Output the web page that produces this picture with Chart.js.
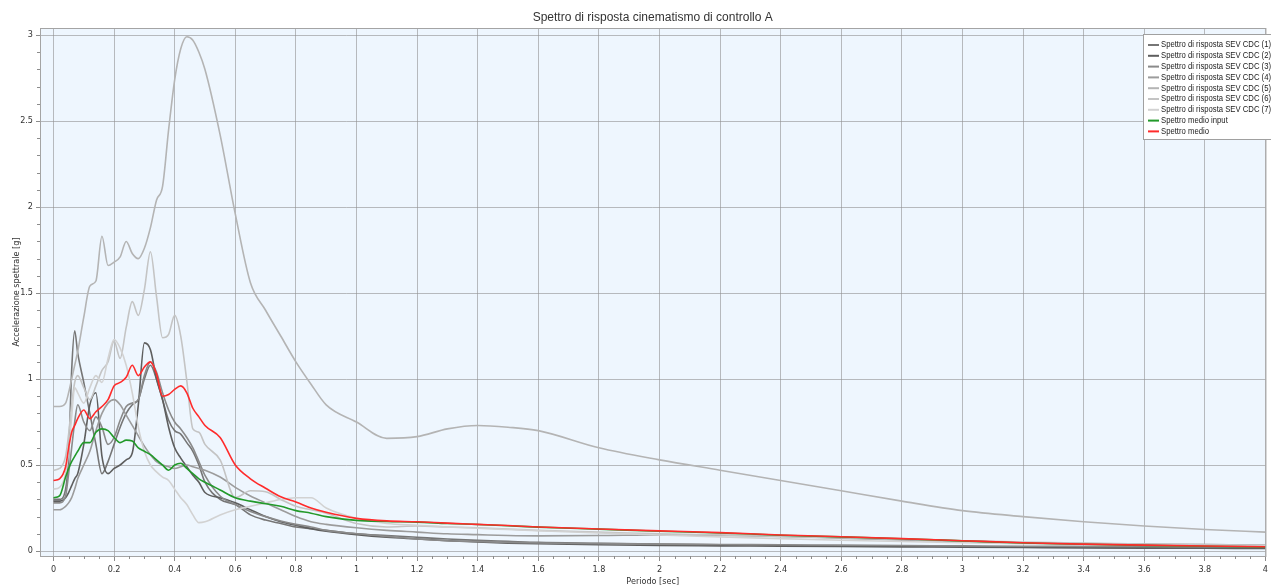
<!DOCTYPE html>
<html>
<head>
<meta charset="utf-8">
<title>Spettro di risposta</title>
<script src="https://cdn.jsdelivr.net/npm/chart.js@4.4.1/dist/chart.umd.min.js"></script>
<style>
  html, body { margin: 0; padding: 0; background: #fff; overflow: hidden; }
  #wrap { width: 1271px; height: 585px; overflow: hidden; }
</style>
</head>
<body>
<div id="wrap"><canvas id="spettri" width="1271" height="590"></canvas></div>
<script>
// periodi [sec]
const periods = [0, 0.02, 0.04, 0.05, 0.06, 0.07, 0.08,
  0.10, 0.12, 0.14, 0.16, 0.18, 0.20, 0.22, 0.24, 0.26, 0.28, 0.30, 0.32, 0.34, 0.36, 0.38, 0.40, 0.42, 0.44, 0.46, 0.48, 0.50,
  0.55, 0.60, 0.65, 0.70, 0.75, 0.80, 0.85, 0.90,
  1.0, 1.1, 1.2, 1.3, 1.4, 1.5, 1.6,
  1.8, 2.0, 2.2, 2.4, 2.6, 2.8, 3.0, 3.2, 3.4, 3.6, 3.8, 4.0];

// accelerazioni spettrali [g]
const sev1 = [0.30, 0.30, 0.36, 0.55, 1.05, 1.28, 1.15,
  0.98, 0.80, 0.62, 0.45, 0.52, 0.62, 0.72, 0.80, 0.85, 0.88, 1.00, 1.08, 1.00, 0.88, 0.76, 0.70, 0.68, 0.63, 0.58, 0.50, 0.40,
  0.30, 0.27, 0.21, 0.18, 0.16, 0.14, 0.13, 0.12,
  0.10, 0.09, 0.08, 0.07, 0.062, 0.056, 0.05,
  0.045, 0.04, 0.036, 0.033, 0.03, 0.028, 0.026, 0.024, 0.022, 0.02, 0.019, 0.018];
const sev2 = [0.29, 0.29, 0.31, 0.34, 0.38, 0.42, 0.45,
  0.62, 0.85, 0.92, 0.55, 0.45, 0.48, 0.50, 0.53, 0.57, 0.85, 1.21, 1.17, 1.00, 0.88, 0.72, 0.60, 0.54, 0.49, 0.44, 0.40, 0.34,
  0.31, 0.28, 0.24, 0.20, 0.17, 0.15, 0.13, 0.115,
  0.095, 0.08, 0.07, 0.06, 0.052, 0.046, 0.042,
  0.036, 0.032, 0.03, 0.028, 0.026, 0.024, 0.022, 0.02, 0.018, 0.017, 0.016, 0.015];
const sev3 = [0.28, 0.28, 0.32, 0.45, 0.60, 0.75, 0.85,
  0.75, 0.70, 0.78, 0.72, 0.62, 0.66, 0.76, 0.84, 0.86, 0.88, 1.02, 1.10, 1.04, 0.92, 0.82, 0.75, 0.71, 0.66, 0.60, 0.52, 0.44,
  0.32, 0.27, 0.23, 0.20, 0.175, 0.155, 0.14, 0.12,
  0.10, 0.085, 0.07, 0.06, 0.055, 0.05, 0.047,
  0.043, 0.04, 0.038, 0.036, 0.034, 0.032, 0.03, 0.028, 0.027, 0.026, 0.025, 0.024];
const sev4 = [0.24, 0.24, 0.26, 0.28, 0.31, 0.36, 0.42,
  0.50, 0.58, 0.70, 0.80, 0.86, 0.88, 0.85, 0.79, 0.73, 0.67, 0.61, 0.56, 0.52, 0.50, 0.49, 0.48, 0.49, 0.50, 0.49, 0.48, 0.47,
  0.43, 0.37, 0.32, 0.28, 0.24, 0.20, 0.17, 0.155,
  0.135, 0.12, 0.11, 0.10, 0.095, 0.09, 0.088,
  0.09, 0.094, 0.092, 0.085, 0.075, 0.065, 0.055, 0.048, 0.043, 0.04, 0.037, 0.035];
const sev5 = [0.84, 0.84, 0.86, 0.92, 1.00, 1.08, 1.16,
  1.36, 1.54, 1.57, 1.83, 1.66, 1.68, 1.71, 1.80, 1.73, 1.70, 1.76, 1.88, 2.04, 2.12, 2.45, 2.74, 2.92, 2.99, 2.97, 2.90, 2.80,
  2.42, 1.96, 1.56, 1.40, 1.25, 1.10, 0.97, 0.85,
  0.75, 0.655, 0.665, 0.71, 0.73, 0.72, 0.70,
  0.60, 0.53, 0.47, 0.41, 0.35, 0.29, 0.235, 0.20, 0.17, 0.145, 0.125, 0.11];
const sev6 = [0.47, 0.48, 0.55, 0.68, 0.85, 0.98, 1.02,
  0.95, 0.88, 0.96, 1.05, 1.10, 1.22, 1.12, 1.30, 1.45, 1.37, 1.52, 1.74, 1.48, 1.24, 1.26, 1.37, 1.25, 0.99, 0.71, 0.69, 0.62,
  0.53, 0.31, 0.35, 0.345, 0.30, 0.26, 0.24, 0.22,
  0.16, 0.14, 0.145, 0.14, 0.135, 0.128, 0.12,
  0.11, 0.10, 0.093, 0.085, 0.077, 0.068, 0.06, 0.052, 0.046, 0.041, 0.037, 0.034];
const sev7 = [0.36, 0.37, 0.45, 0.58, 0.78, 0.95, 0.92,
  0.86, 0.95, 1.02, 0.98, 1.12, 1.23, 1.18, 1.08, 0.92, 0.72, 0.58, 0.50, 0.46, 0.43, 0.41, 0.36, 0.31, 0.27, 0.21, 0.165, 0.17,
  0.21, 0.24, 0.26, 0.28, 0.30, 0.31, 0.31, 0.25,
  0.19, 0.16, 0.15, 0.14, 0.132, 0.125, 0.118,
  0.105, 0.093, 0.082, 0.072, 0.063, 0.055, 0.048, 0.042, 0.038, 0.034, 0.031, 0.029];
const medioInput = [0.31, 0.32, 0.43, 0.48, 0.52, 0.55, 0.58,
  0.63, 0.63, 0.69, 0.71, 0.70, 0.66, 0.63, 0.645, 0.64, 0.60, 0.58, 0.56, 0.53, 0.50, 0.47, 0.50, 0.51, 0.48, 0.45, 0.42, 0.40,
  0.355, 0.31, 0.29, 0.275, 0.26, 0.235, 0.22, 0.20,
  0.178, 0.172, 0.168, 0.16, 0.154, 0.147, 0.139,
  0.127, 0.115, 0.105, 0.092, 0.082, 0.071, 0.059, 0.047, 0.039, 0.033, 0.028, 0.024];
const medio = [0.41, 0.42, 0.49, 0.60, 0.69, 0.73, 0.77,
  0.82, 0.77, 0.81, 0.84, 0.88, 0.96, 0.98, 1.01, 1.08, 1.02, 1.07, 1.10, 1.03, 0.90, 0.91, 0.94, 0.96, 0.92, 0.83, 0.78, 0.73,
  0.66, 0.50, 0.42, 0.365, 0.315, 0.285, 0.25, 0.225,
  0.19, 0.175, 0.17, 0.162, 0.155, 0.148, 0.14,
  0.128, 0.117, 0.107, 0.093, 0.083, 0.072, 0.06, 0.048, 0.04, 0.034, 0.029, 0.025];

const seriesNames = [
  'Spettro di risposta SEV CDC (1)', 'Spettro di risposta SEV CDC (2)', 'Spettro di risposta SEV CDC (3)',
  'Spettro di risposta SEV CDC (4)', 'Spettro di risposta SEV CDC (5)', 'Spettro di risposta SEV CDC (6)',
  'Spettro di risposta SEV CDC (7)', 'Spettro medio input', 'Spettro medio'];
const seriesValues = [sev1, sev2, sev3, sev4, sev5, sev6, sev7, medioInput, medio];
const seriesColors = ['#767676', '#5e5e5e', '#8a8a8a', '#9c9c9c', '#b4b4b4', '#c4c4c4', '#d2d2d2', '#22992a', '#ff2b2b'];

const X_MIN = -0.0445, X_MAX = 4, X_MINOR = 0.05, X_MAJOR = 0.2;
const Y_MIN = -0.029, Y_MAX = 3.041, Y_MINOR = 0.1, Y_MAJOR = 0.5;

const FONT = '"Liberation Sans Narrow", "DejaVu Sans Condensed", "Liberation Sans", Arial, sans-serif';

const onStep = (v, step) => Math.abs(v / step - Math.round(v / step)) < 1e-6;
const fmt = v => String(Math.round(v * 100) / 100);

// tacche ogni passo minore, da 0 fino al massimo dell'asse
function stepTicks(step, max) {
  const out = [];
  for (let k = 0; k * step <= max + 1e-9; k++) out.push({ value: Math.round(k * step * 1000) / 1000 });
  return out;
}

const datasets = seriesValues.map((vals, i) => ({
  label: seriesNames[i],
  data: periods.map((t, k) => ({ x: t, y: vals[k] })),
  borderColor: seriesColors[i],
  borderWidth: 1.6,
  pointRadius: 0,
  fill: false,
  cubicInterpolationMode: 'monotone',
  order: seriesValues.length - 1 - i
}));

// sfondo area, cornice, tacche minori, titolo e legenda
const cornice = {
  id: 'cornice',
  beforeDraw(chart) {
    const { ctx, chartArea: a } = chart;
    ctx.save();
    ctx.fillStyle = '#eef6fe';
    ctx.fillRect(a.left, a.top, a.right - a.left, a.bottom - a.top);
    ctx.restore();
  },
  afterDraw(chart) {
    const { ctx, chartArea: a, scales } = chart;
    ctx.save();
    ctx.strokeStyle = '#a4a4a4';
    ctx.lineWidth = 1;
    ctx.strokeRect(Math.round(a.left) + 0.5, Math.round(a.top) + 0.5, a.right - a.left, a.bottom - a.top);

    // tacche minori, più corte di quelle principali
    ctx.strokeStyle = '#8c8c8c';
    ctx.beginPath();
    scales.x.ticks.forEach(t => {
      if (onStep(t.value, X_MAJOR)) return;
      const px = Math.round(scales.x.getPixelForValue(t.value)) + 0.5;
      ctx.moveTo(px, a.bottom);
      ctx.lineTo(px, a.bottom + 3);
    });
    scales.y.ticks.forEach(t => {
      if (onStep(t.value, Y_MAJOR)) return;
      const py = Math.round(scales.y.getPixelForValue(t.value)) + 0.5;
      ctx.moveTo(a.left, py);
      ctx.lineTo(a.left - 3, py);
    });
    ctx.stroke();

    // titolo
    const title = 'Spettro di risposta cinematismo di controllo A';
    ctx.font = '12px "Liberation Sans", Arial, sans-serif';
    ctx.fillStyle = '#333';
    ctx.textBaseline = 'middle';
    const tw = ctx.measureText(title).width;
    const ts = Math.min(1, 259 / tw);
    ctx.save();
    ctx.translate((a.left + a.right) / 2, 18);
    ctx.scale(ts, 1);
    ctx.textAlign = 'center';
    ctx.fillText(title, 0, 0);
    ctx.restore();

    // legenda
    const lx = 1143, ly = 34, lh = 105;
    ctx.fillStyle = '#fff';
    ctx.fillRect(lx, ly, 140, lh);
    ctx.strokeStyle = '#a0a0a0';
    ctx.strokeRect(lx + 0.5, ly + 0.5, 140, lh);
    ctx.font = '9px "Liberation Sans", Arial, sans-serif';
    const lw = ctx.measureText(seriesNames[0]).width;
    const ls = Math.min(1, 110 / lw);
    chart.data.datasets.forEach((ds, i) => {
      const y = 45 + i * 10.8;
      ctx.strokeStyle = ds.borderColor;
      ctx.lineWidth = 2;
      ctx.beginPath();
      ctx.moveTo(1148, y);
      ctx.lineTo(1159, y);
      ctx.stroke();
      ctx.save();
      ctx.translate(1161, y);
      ctx.scale(ls, 1);
      ctx.fillStyle = '#222';
      ctx.textAlign = 'left';
      ctx.fillText(ds.label, 0, 0);
      ctx.restore();
    });
    ctx.restore();
  }
};

new Chart(document.getElementById('spettri'), {
  type: 'line',
  data: { datasets },
  options: {
    responsive: false,
    animation: false,
    devicePixelRatio: 1,
    layout: { padding: { top: 28, left: 0, right: 0, bottom: 0 } },
    plugins: { legend: { display: false }, title: { display: false }, tooltip: { enabled: false } },
    scales: {
      x: {
        type: 'linear',
        min: X_MIN,
        max: X_MAX,
        afterBuildTicks: s => { s.ticks = stepTicks(X_MINOR, X_MAX); },
        afterFit: s => { s.height = 34; },
        ticks: {
          stepSize: X_MINOR,
          autoSkip: false,
          maxRotation: 0,
          padding: 3,
          color: '#333',
          font: { family: FONT, size: 9 },
          callback: v => onStep(v, X_MAJOR) ? fmt(v) : ''
        },
        grid: {
          color: c => onStep(c.tick.value, X_MAJOR) ? 'rgba(145,145,145,0.6)' : 'rgba(0,0,0,0)',
          tickColor: c => onStep(c.tick.value, X_MAJOR) ? '#8c8c8c' : 'rgba(0,0,0,0)',
          tickLength: 5
        },
        border: { display: false },
        title: {
          display: true,
          text: 'Periodo [sec]',
          color: '#333',
          font: { family: FONT, size: 9 },
          padding: { top: 0, bottom: 3 }
        }
      },
      y: {
        type: 'linear',
        min: Y_MIN,
        max: Y_MAX,
        afterBuildTicks: s => { s.ticks = stepTicks(Y_MINOR, 3.0); },
        afterFit: s => { s.width = 40; },
        ticks: {
          stepSize: Y_MINOR,
          autoSkip: false,
          padding: 3,
          color: '#333',
          font: { family: FONT, size: 9 },
          callback: v => onStep(v, Y_MAJOR) ? fmt(v) : ''
        },
        grid: {
          color: c => onStep(c.tick.value, Y_MAJOR) ? 'rgba(145,145,145,0.6)' : 'rgba(0,0,0,0)',
          tickColor: c => onStep(c.tick.value, Y_MAJOR) ? '#8c8c8c' : 'rgba(0,0,0,0)',
          tickLength: 4
        },
        border: { display: false },
        title: {
          display: true,
          text: 'Accelerazione spettrale [g]',
          color: '#333',
          font: { family: FONT, size: 9 },
          padding: { top: 11, bottom: 0 }
        }
      }
    }
  },
  plugins: [cornice]
});
</script>
</body>
</html>
